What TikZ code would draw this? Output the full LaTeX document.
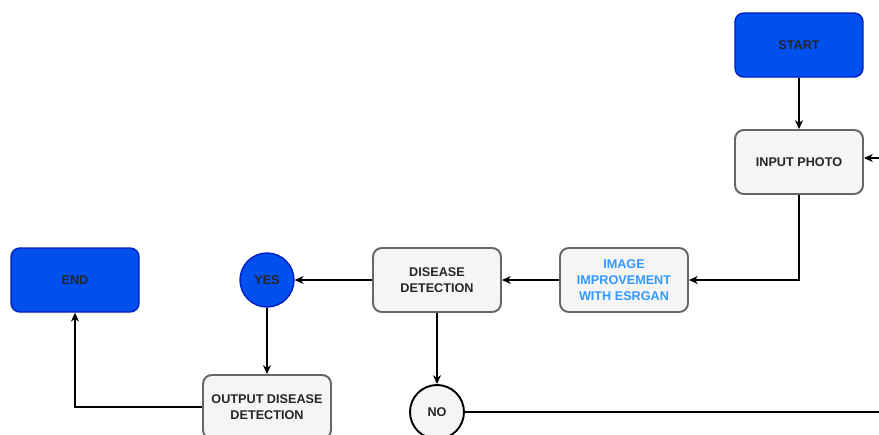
\documentclass[tikz,border=0pt]{standalone}
\usepackage{fontspec}
\setmainfont{Liberation Sans}
\usetikzlibrary{shapes.geometric, arrows.meta, calc, positioning}

\definecolor{startblue}{HTML}{0050EF}
\definecolor{startline}{HTML}{001DBC}
\definecolor{boxfill}{HTML}{F5F5F5}
\definecolor{boxline}{HTML}{666666}
\definecolor{textblue}{HTML}{3399FF}

\tikzset{
  box/.style={rectangle,rounded corners=5pt,minimum width=2.56cm,minimum height=1.28cm,
    align=center,font=\fontsize{7.2}{9.3}\selectfont\bfseries,line width=1.1pt},
  greybox/.style={box,draw=boxline,fill=boxfill,text=black!85},
  bluebox/.style={box,draw=startline,fill=startblue,text=black!85,line width=0.8pt},
  decision/.style={circle,minimum size=1.08cm,inner sep=0pt,
    font=\fontsize{7.2}{9.3}\selectfont\bfseries,text=black!85},
  link/.style={-{Stealth[length=5pt,width=4.5pt,inset=1.5pt]},line width=0.6pt}
}

\begin{document}
\begin{tikzpicture}[x=0.02cm,y=-0.02cm]
\useasboundingbox (0,0) rectangle (879,434);
\clip (0,0) rectangle (879,434);
\fill[white] (0,0) rectangle (879,434);
% blocks
\node[bluebox] (start) at (799,45) {START};
\node[greybox] (input) at (799,162) {INPUT PHOTO};
\node[greybox,text=textblue] (esrgan) at (624,280) {IMAGE\\IMPROVEMENT\\WITH ESRGAN};
\node[greybox] (detect) at (437,280) {DISEASE\\DETECTION};
\node[decision,draw=startline,fill=startblue,line width=0.8pt] (yes) at (267,280) {YES};
\node[decision,draw=black,fill=boxfill,line width=1.1pt] (no) at (437,412) {NO};
\node[greybox] (output) at (267,407) {OUTPUT DISEASE\\DETECTION};
\node[bluebox] (end) at (75,280) {END};
\coordinate (back) at (920,158);
% links
\draw[link] (start) -- (input);
\draw[link] (input.south) |- (esrgan.east);
\draw[link] (esrgan) -- (detect);
\draw[link] (detect) -- (yes);
\draw[link] (yes) -- (output);
\draw[link] (detect) -- (no);
\draw[link] (output.west) -| (end.south);
\draw[link] (no.east) -- (920,412) -- (back) -- (input.east |- back);
\end{tikzpicture}
\end{document}
